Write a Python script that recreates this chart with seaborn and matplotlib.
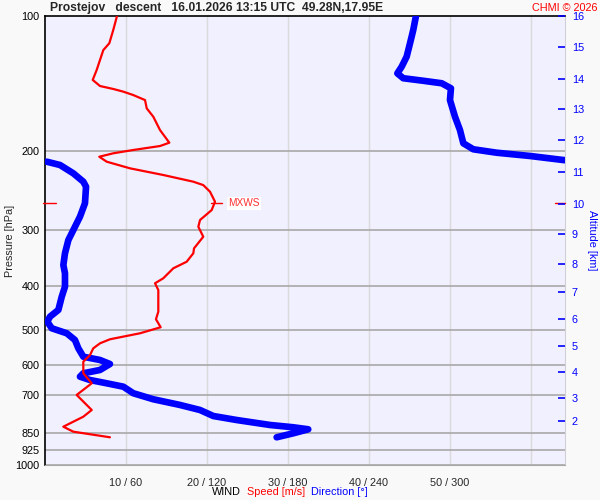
import matplotlib
matplotlib.use("Agg")
import matplotlib.pyplot as plt
import seaborn as sns
import pandas as pd
from matplotlib.ticker import NullLocator

# ---------------- data ----------------
speed_p = [100.0, 107.4, 115.0, 119.1, 125.3, 131.9, 138.8, 143.2, 145.4, 147.4, 150.0,
           153.9, 160.6, 167.6, 179.5, 191.5, 194.8, 198.8, 202.2, 205.8, 211.1, 218.4,
           226.0, 233.9, 238.0, 246.2, 259.2, 270.5, 284.7, 294.7, 310.2, 329.2, 337.7,
           352.6, 364.7, 383.9, 393.8, 407.6, 455.5, 473.6, 493.4, 508.9, 524.8, 535.8,
           549.7, 568.9, 588.7, 624.8, 657.7, 698.2, 754.2, 780.6, 821.7, 842.9, 867.5]
speed_ms = [8.89, 8.43, 7.94, 7.20, 6.79, 6.38, 5.89, 6.79, 8.43, 9.67, 10.90,
            12.35, 12.56, 13.37, 14.20, 15.35, 14.20, 10.90, 8.43, 6.70, 7.62, 10.49,
            14.60, 18.31, 19.54, 20.37, 20.99, 20.58, 19.14, 18.93, 19.54, 18.40, 18.31,
            17.49, 15.84, 14.60, 13.58, 13.99, 13.99, 13.70, 14.28, 11.73, 8.02, 6.79,
            5.96, 5.56, 4.73, 4.73, 5.77, 3.91, 5.77, 4.73, 2.26, 3.49, 8.02]

dir_upper_p = [100.0, 107.4, 115.0, 123.2, 129.7, 134.2, 137.6, 139.4, 141.2, 144.9,
               153.9, 167.6, 179.5, 192.1, 198.1, 201.6, 205.0, 209.3, 210.4]
dir_upper_deg = [274.8, 272.8, 270.4, 267.9, 264.2, 261.0, 265.4, 280.2, 293.9, 300.7,
                 300.0, 303.7, 307.4, 309.9, 317.3, 334.6, 359.3, 383.9, 396.3]

dir_lower_p = [211.1, 214.7, 224.1, 233.9, 240.0, 261.3, 279.9, 299.7, 315.5, 337.7,
               358.6, 374.2, 400.8, 421.9, 451.5, 467.3, 479.4, 496.0, 508.9, 526.8,
               549.7, 573.9, 583.6, 595.8, 614.3, 624.8, 635.7, 646.7, 657.7, 669.2,
               692.1, 713.8, 735.0, 754.2, 777.9, 794.0, 814.5, 824.1, 832.7, 850.0, 867.5]
dir_lower_deg = [1.3, 11.1, 21.0, 28.4, 30.4, 29.6, 25.9, 21.0, 17.3, 14.8,
                 13.6, 14.8, 14.8, 12.4, 9.9, 3.7, 1.7, 5.0, 16.1, 22.2,
                 24.7, 28.4, 40.7, 48.1, 40.7, 28.4, 25.9, 33.3, 45.7, 58.0,
                 65.4, 80.2, 100.0, 114.8, 124.7, 142.0, 166.7, 183.9, 195.0, 183.9, 171.6]

pressure_ticks = [100, 200, 300, 400, 500, 600, 700, 850, 925, 1000]
altitude_km = [2, 3, 4, 5, 6, 7, 8, 9, 10, 11, 12, 13, 14, 15, 16]
altitude_p = [798.0, 708.0, 621.6, 544.0, 473.0, 412.5, 357.3, 306.3, 262.7,
              222.9, 189.2, 160.9, 137.9, 117.4, 100.0]
wind_ticks = [10, 20, 30, 40, 50, 60]
wind_tick_labels = ["10 / 60", "20 / 120", "30 / 180", "40 / 240", "50 / 300", ""]
mxws_p = 261.3
mxws_speed = 21.0
speed_max = 64.2

title = "Prostejov   descent   16.01.2026 13:15 UTC  49.28N,17.95E"

# ---------------- frames ----------------
df_speed = pd.DataFrame({"p": speed_p, "v": speed_ms})
df_du = pd.DataFrame({"p": dir_upper_p, "v": [d / 6 for d in dir_upper_deg]})
df_dl = pd.DataFrame({"p": dir_lower_p, "v": [d / 6 for d in dir_lower_deg]})

sns.set_style("white")
plt.rcParams["font.family"] = ["Liberation Sans", "DejaVu Sans"]

BG = "#f9f9f9"
PLOT_BG = "#f0f0ff"
FS = 7.8
fig = plt.figure(figsize=(6, 5), dpi=100, facecolor=BG)
ax = fig.add_axes([45 / 600, 35 / 500, 520 / 600, 449 / 500])
ax.set_facecolor(PLOT_BG)

ax.set_yscale("log")
ax.set_ylim(1000, 100)
ax.set_xlim(0, speed_max)

# grid lines
for p in pressure_ticks[1:]:
    ax.axhline(p, color="#a8a8a8", lw=1.2, zorder=1)
for w in wind_ticks:
    ax.axvline(w, color="#dadada", lw=1.0, zorder=0.9)

sns.lineplot(data=df_du, x="v", y="p", sort=False, estimator=None, ax=ax,
             color="#0000ff", lw=4.8, solid_capstyle="round", zorder=3)
sns.lineplot(data=df_dl, x="v", y="p", sort=False, estimator=None, ax=ax,
             color="#0000ff", lw=4.8, solid_capstyle="round", zorder=3)
sns.lineplot(data=df_speed, x="v", y="p", sort=False, estimator=None, ax=ax,
             color="#ff0000", lw=1.6, zorder=4)

ax.set_yscale("log")
ax.set_ylim(1000, 100)
ax.set_xlim(0, speed_max)
ax.yaxis.set_minor_locator(NullLocator())
ax.set_yticks(pressure_ticks)
ax.set_yticklabels([str(p) for p in pressure_ticks])
ax.set_xticks(wind_ticks)
ax.set_xticklabels(wind_tick_labels)
ax.tick_params(axis="y", length=0, pad=4, labelsize=FS, labelcolor="#000000")
ax.tick_params(axis="x", length=5, color="#d0d0d0", pad=4, labelsize=FS)
ax.set_xlabel("")
ax.set_ylabel("Pressure [hPa]", fontsize=FS)
ax.yaxis.set_label_coords((15 - 45) / 520, 0.5)

for s in ["left", "top"]:
    ax.spines[s].set_color("#000000")
    ax.spines[s].set_linewidth(1.2)
ax.spines["bottom"].set_color("#a8a8a8")
ax.spines["right"].set_color("#d0d0d8")

# altitude axis
ax2 = ax.twinx()
ax2.set_yscale("log")
ax2.set_ylim(1000, 100)
ax2.yaxis.set_minor_locator(NullLocator())
ax2.set_yticks(altitude_p)
ax2.set_yticklabels([str(a) for a in altitude_km])
ax2.tick_params(axis="y", direction="in", length=5, width=1.2, color="#0000ff",
                labelcolor="#0000ff", labelsize=FS, pad=5)
ax2.set_ylabel("Altitude [km]", color="#0000ff", fontsize=FS, rotation=270)
ax2.yaxis.set_label_coords((597 - 45) / 520, 0.5)
for s in ax2.spines.values():
    s.set_visible(False)

# MXWS markers
yt = ax.get_yaxis_transform()
ax.plot([-0.004, 0.021], [mxws_p, mxws_p], color="#ff0000", lw=1, transform=yt, clip_on=False, zorder=5)
ax.plot([0.981, 1.0], [mxws_p, mxws_p], color="#ff0000", lw=1, transform=yt, clip_on=False, zorder=5)
ax.plot([mxws_speed - 0.5, mxws_speed + 0.9], [mxws_p, mxws_p], color="#ff0000", lw=1, zorder=5)
ax.annotate("MXWS", (mxws_speed + 0.9, mxws_p), xytext=(4, 0), textcoords="offset points",
            color="#ff3030", fontsize=7.3, va="center", ha="left",
            bbox=dict(facecolor="white", edgecolor="none", pad=1), zorder=6)

# texts
fig.text(50 / 600, 1 - 8 / 500, title, fontsize=8.7, fontweight="bold", ha="left", va="center")
fig.text(597 / 600, 1 - 8 / 500, "CHMI © 2026", fontsize=FS, color="#ff0000", ha="right", va="center")
fig.text(226 / 600, 1 - 492 / 500, "WIND", fontsize=FS, color="#000000", ha="center", va="center")
fig.text(276 / 600, 1 - 492 / 500, "Speed [m/s]", fontsize=FS, color="#ff0000", ha="center", va="center")
fig.text(339 / 600, 1 - 492 / 500, "Direction [°]", fontsize=FS, color="#0000ff", ha="center", va="center")

fig.savefig("out.png", dpi=100, facecolor=BG)
